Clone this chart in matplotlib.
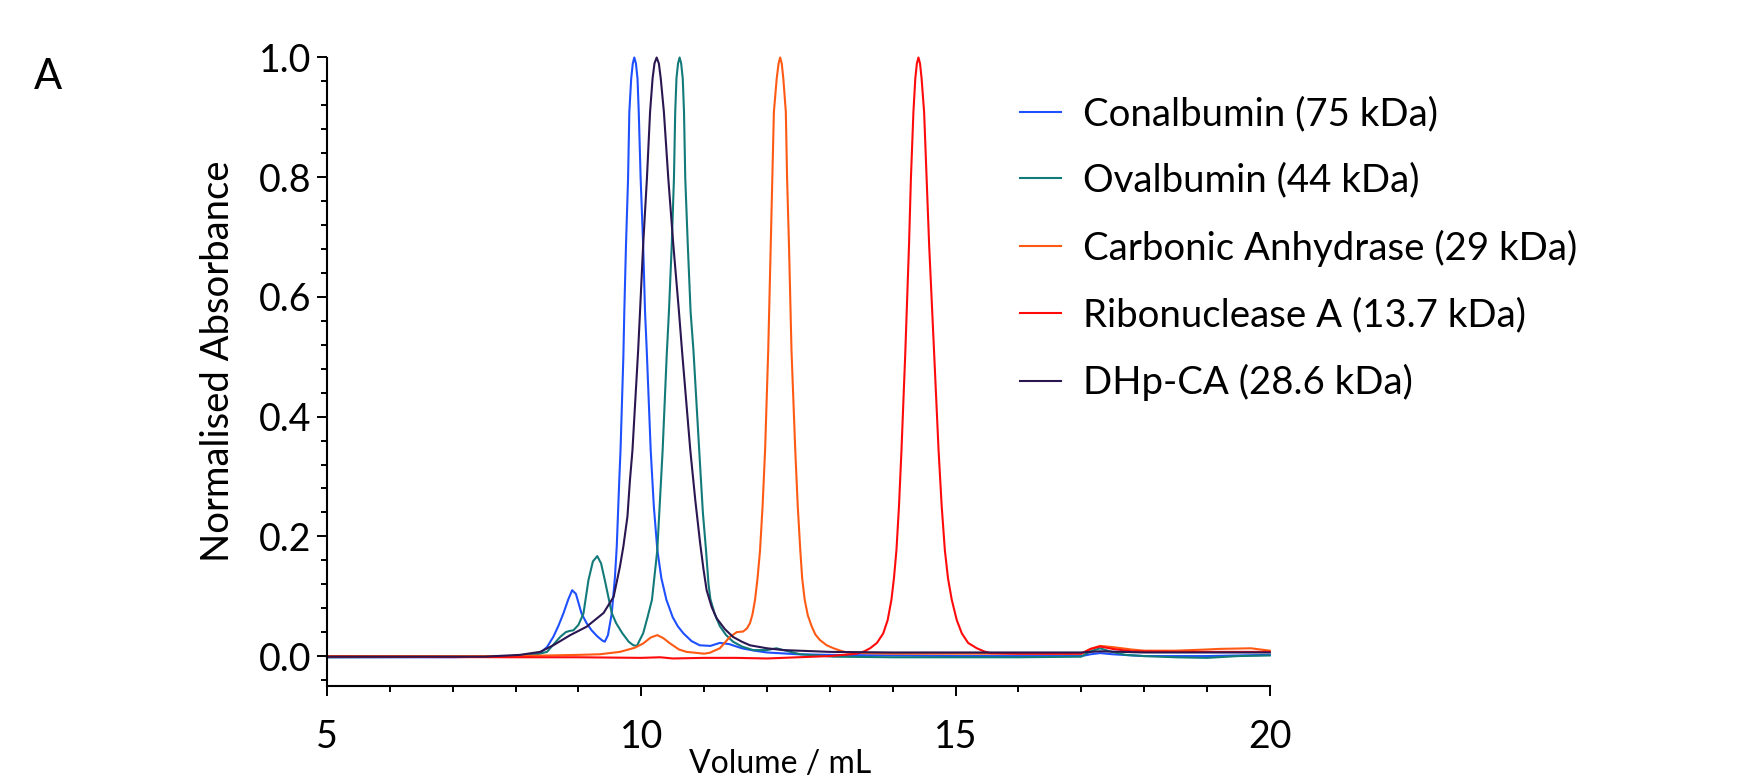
import matplotlib.pyplot as plt
from matplotlib.ticker import MultipleLocator

plt.rcParams['font.family'] = ['Lato', 'DejaVu Sans']

# Conalbumin (75 kDa)
con_x = [5.0, 7.0, 8.0, 8.2, 8.39, 8.5, 8.6, 8.68, 8.76, 8.84, 8.9, 8.96, 9.05, 9.13,
         9.21, 9.3, 9.38, 9.42, 9.47, 9.53, 9.58, 9.61, 9.65, 9.67, 9.715, 9.73, 9.757,
         9.79, 9.81, 9.84, 9.865, 9.889, 9.915, 9.94, 9.96, 9.99, 10.03, 10.06, 10.087,
         10.15, 10.2, 10.256, 10.32, 10.40, 10.5, 10.58, 10.67, 10.8, 10.93, 11.1, 11.25,
         11.4, 11.6, 11.8, 12.0, 12.5, 13.0, 14.0, 15.0, 16.0, 17.0, 17.15, 17.3, 17.5,
         18.0, 18.5, 19.0, 19.5, 20.0]
con_y = [-0.002, -0.002, 0.0, 0.001, 0.005, 0.015, 0.032, 0.05, 0.071, 0.095, 0.110,
         0.104, 0.071, 0.055, 0.043, 0.033, 0.026, 0.024, 0.035, 0.071, 0.13, 0.183,
         0.294, 0.344, 0.50, 0.575, 0.687, 0.798, 0.909, 0.965, 0.99, 1.0, 0.99, 0.965,
         0.909, 0.798, 0.687, 0.575, 0.511, 0.344, 0.25, 0.177, 0.13, 0.094, 0.065,
         0.05, 0.038, 0.025, 0.018, 0.017, 0.022, 0.020, 0.013, 0.009, 0.006, 0.003,
         0.002, 0.001, 0.0, 0.0, 0.0, 0.003, 0.005, 0.003, 0.0, 0.0, 0.0, 0.001, 0.002]

# Ovalbumin (44 kDa)
ova_x = [5.0, 8.0, 8.3, 8.5, 8.71, 8.8, 8.86, 8.92, 9.0, 9.08, 9.16, 9.23, 9.30, 9.36,
         9.42, 9.53, 9.6, 9.7, 9.8, 9.875, 9.93, 10.03, 10.1, 10.17, 10.255, 10.34,
         10.405, 10.44, 10.485, 10.52, 10.54, 10.56, 10.585, 10.61, 10.635, 10.66, 10.68,
         10.70, 10.74, 10.785, 10.83, 10.935, 10.98, 11.03, 11.07, 11.1, 11.17, 11.25,
         11.35, 11.46, 11.6, 11.78, 12.0, 12.15, 12.3, 12.53, 13.06, 14.0, 15.0, 16.0,
         17.0, 17.15, 17.3, 17.45, 17.7, 18.0, 18.5, 19.0, 19.5, 20.0]
ova_y = [-0.002, -0.001, 0.002, 0.007, 0.032, 0.040, 0.042, 0.043, 0.052, 0.071, 0.127,
         0.158, 0.167, 0.155, 0.127, 0.072, 0.055, 0.038, 0.024, 0.018, 0.017, 0.038,
         0.065, 0.094, 0.177, 0.344, 0.503, 0.575, 0.687, 0.798, 0.909, 0.965, 0.99, 1.0,
         0.99, 0.965, 0.909, 0.798, 0.687, 0.575, 0.511, 0.32, 0.24, 0.177, 0.12, 0.095,
         0.07, 0.05, 0.035, 0.024, 0.016, 0.010, 0.010, 0.013, 0.009, 0.003, -0.001,
         -0.002, -0.002, -0.002, -0.001, 0.008, 0.013, 0.008, 0.002, 0.0, -0.002,
         -0.003, 0.0, 0.001]

# Carbonic Anhydrase (29 kDa)
ca_x = [5.0, 8.0, 9.0, 9.34, 9.66, 9.9, 10.03, 10.15, 10.255, 10.35, 10.46, 10.6, 10.72,
        11.0, 11.09, 11.25, 11.41, 11.52, 11.62, 11.68, 11.73, 11.77, 11.81, 11.85, 11.89,
        11.93, 11.97, 12.02, 12.06, 12.085, 12.11, 12.155, 12.185, 12.21, 12.235, 12.26,
        12.30, 12.32, 12.35, 12.39, 12.45, 12.49, 12.53, 12.56, 12.60, 12.65, 12.71,
        12.77, 12.84, 12.95, 13.06, 13.17, 13.27, 13.48, 14.0, 15.0, 16.0, 17.0, 17.15,
        17.3, 17.5, 17.8, 18.0, 18.5, 19.0, 19.2, 19.7, 20.0]
ca_y = [0.0, 0.0, 0.002, 0.003, 0.007, 0.014, 0.021, 0.031, 0.035, 0.030, 0.021, 0.011,
        0.007, 0.004, 0.0055, 0.013, 0.032, 0.040, 0.041, 0.046, 0.055, 0.07, 0.094,
        0.13, 0.177, 0.25, 0.344, 0.511, 0.687, 0.798, 0.909, 0.965, 0.99, 1.0, 0.99,
        0.965, 0.909, 0.798, 0.687, 0.511, 0.344, 0.25, 0.177, 0.13, 0.094, 0.068, 0.05,
        0.036, 0.027, 0.018, 0.013, 0.009, 0.006, 0.005, 0.004, 0.004, 0.004, 0.004,
        0.012, 0.017, 0.015, 0.011, 0.009, 0.009, 0.011, 0.012, 0.013, 0.009]

# Ribonuclease A (13.7 kDa)
rna_x = [5.0, 8.0, 9.0, 10.0, 10.3, 10.5, 11.0, 11.5, 12.0, 12.5, 13.0, 13.43, 13.55,
         13.64, 13.75, 13.85, 13.92, 13.98, 14.02, 14.06, 14.10, 14.14, 14.20, 14.26,
         14.29, 14.33, 14.36, 14.385, 14.41, 14.435, 14.46, 14.50, 14.54, 14.58, 14.66,
         14.73, 14.78, 14.83, 14.88, 14.94, 15.02, 15.10, 15.2, 15.34, 15.45, 15.55,
         16.0, 17.0, 17.15, 17.3, 17.5, 17.8, 18.5, 19.0, 19.5, 20.0]
rna_y = [-0.001, -0.002, -0.002, -0.003, -0.002, -0.004, -0.003, -0.003, -0.004, -0.002,
         0.0, 0.004, 0.008, 0.013, 0.022, 0.038, 0.06, 0.094, 0.13, 0.177, 0.25, 0.344,
         0.505, 0.687, 0.798, 0.909, 0.965, 0.99, 1.0, 0.99, 0.965, 0.909, 0.798, 0.687,
         0.505, 0.344, 0.25, 0.177, 0.13, 0.094, 0.06, 0.038, 0.022, 0.013, 0.008, 0.005,
         0.004, 0.004, 0.012, 0.016, 0.012, 0.008, 0.007, 0.007, 0.007, 0.007]

# DHp-CA (28.6 kDa)
dhp_x = [5.0, 7.5, 8.07, 8.39, 8.6, 8.87, 9.13, 9.40, 9.56, 9.66, 9.715, 9.78, 9.82, 9.86,
         9.95, 9.98, 10.03, 10.09, 10.14, 10.18, 10.21, 10.245, 10.28, 10.31, 10.36,
         10.43, 10.51, 10.60, 10.65, 10.78, 10.86, 10.935, 10.99, 11.04, 11.12, 11.2,
         11.33, 11.46, 11.6, 11.73, 12.0, 12.26, 13.0, 14.0, 15.0, 16.0, 17.0, 17.3,
         18.0, 19.0, 20.0]
dhp_y = [-0.001, -0.001, 0.002, 0.007, 0.018, 0.035, 0.049, 0.072, 0.099, 0.149, 0.183,
         0.233, 0.294, 0.344, 0.51, 0.575, 0.687, 0.798, 0.909, 0.965, 0.99, 1.0, 0.99,
         0.965, 0.909, 0.798, 0.687, 0.575, 0.508, 0.344, 0.26, 0.19, 0.145, 0.110,
         0.082, 0.063, 0.045, 0.032, 0.024, 0.018, 0.013, 0.010, 0.007, 0.006, 0.006,
         0.006, 0.006, 0.008, 0.006, 0.006, 0.006]

labels = ['Conalbumin (75 kDa)', 'Ovalbumin (44 kDa)', 'Carbonic Anhydrase (29 kDa)',
          'Ribonuclease A (13.7 kDa)', 'DHp-CA (28.6 kDa)']
colors = ['#1e50ff', '#137a7a', '#ff5a14', '#ff0a0a', '#2a1650']

fig = plt.figure(figsize=(17.51, 7.82), dpi=100)
ax = fig.add_axes([327/1751, 1-686/782, (1269.8-327)/1751, (686-57.5)/782])

series = [(con_x, con_y), (ova_x, ova_y), (ca_x, ca_y), (rna_x, rna_y), (dhp_x, dhp_y)]
for (xs, ys), lab, c in zip(series, labels, colors):
    ax.plot(xs, ys, color=c, lw=1.5, label=lab, clip_on=False)

ax.set_xlim(5, 20)
ax.set_ylim(-0.05, 1.0)
ax.xaxis.set_major_locator(MultipleLocator(5))
ax.xaxis.set_minor_locator(MultipleLocator(1))
ax.yaxis.set_major_locator(MultipleLocator(0.2))
ax.yaxis.set_minor_locator(MultipleLocator(0.04))
ax.yaxis.set_major_formatter(lambda v, p: f'{v:.1f}')

for s in ['top', 'right']:
    ax.spines[s].set_visible(False)
for s in ['left', 'bottom']:
    ax.spines[s].set_linewidth(1.5)

ax.tick_params(which='major', length=7, width=1.4, labelsize=27)
ax.tick_params(which='minor', length=4.5, width=1.4)
ax.tick_params(axis='x', which='major', pad=17)
ax.tick_params(axis='y', which='major', pad=4)

ax.set_ylabel('Normalised Absorbance', fontsize=27.5, va='center')
ax.yaxis.set_label_coords(-0.1156, 0.517)
ax.set_xlabel('Volume / mL', fontsize=23, va='top')
ax.xaxis.set_label_coords(0.4805, -0.1005)

ax.legend(loc='center left', bbox_to_anchor=(1020/1751, 1-248.5/782),
          bbox_transform=fig.transFigure, frameon=False, fontsize=27.6,
          handlelength=1.07, handletextpad=0.58, labelspacing=0.80,
          borderpad=0, borderaxespad=0)

fig.text(34/1751, 1-89/782, 'A', fontsize=30, va='baseline')

fig.savefig('out.png', dpi=100)
